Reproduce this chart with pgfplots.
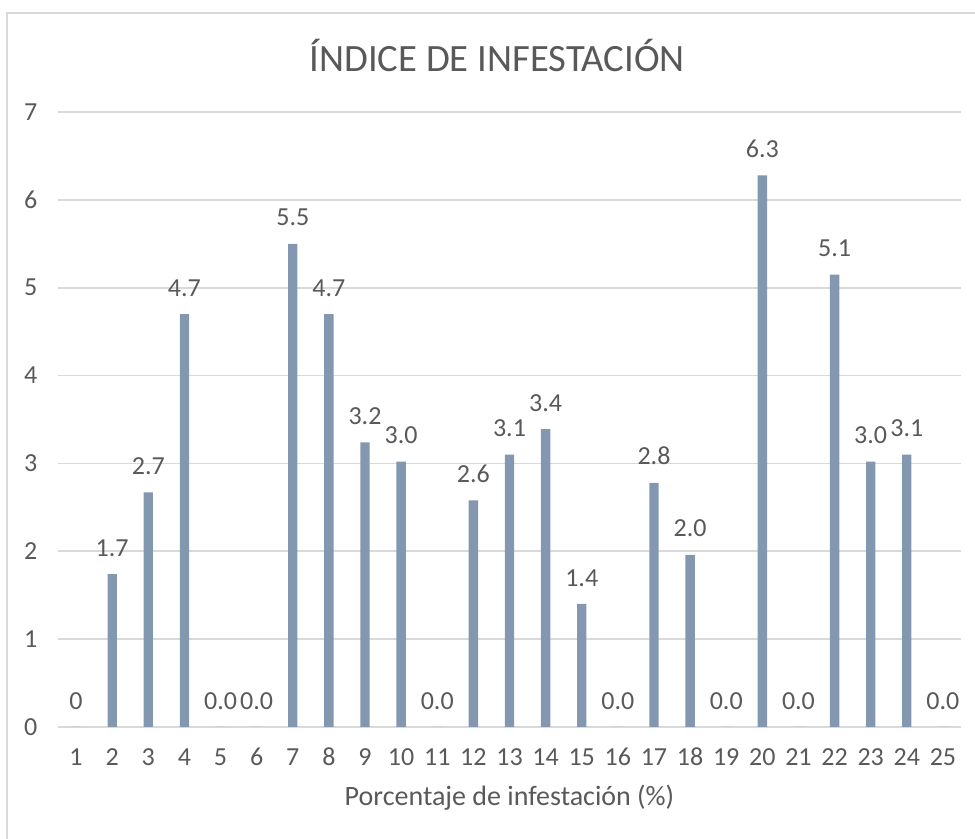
\documentclass[border=0pt]{standalone}
\usepackage{pgfplots}
\pgfplotsset{compat=1.18}
\usepackage{pgfplotstable}
\usepackage{fontspec}
\setmainfont{Carlito}
\definecolor{txt}{HTML}{595959}
\definecolor{barc}{HTML}{8497B0}
\definecolor{gridc}{HTML}{D9D9D9}
\pgfplotstableread{
x y label
1 0 0
2 1.74 1.7
3 2.67 2.7
4 4.70 4.7
5 0 0.0
6 0 0.0
7 5.50 5.5
8 4.70 4.7
9 3.24 3.2
10 3.02 3.0
11 0 0.0
12 2.58 2.6
13 3.10 3.1
14 3.39 3.4
15 1.40 1.4
16 0 0.0
17 2.78 2.8
18 1.96 2.0
19 0 0.0
20 6.28 6.3
21 0 0.0
22 5.15 5.1
23 3.02 3.0
24 3.10 3.1
25 0 0.0
}\datatable
\begin{document}
\begin{tikzpicture}
\path[use as bounding box] (0,0) rectangle (731.25pt,629.25pt);
\draw[gridc, line width=1.2pt] (5.25pt,-5pt) -- (5.25pt,619.5pt) -- (740pt,619.5pt);
\node[text=txt, font=\fontsize{29}{29}\selectfont] at (373pt,588pt) {ÍNDICE DE INFESTACIÓN};
\begin{axis}[
  at={(43.5pt,84pt)}, anchor=south west,
  scale only axis, width=677.25pt, height=461.25pt,
  xmin=0.5, xmax=25.5, ymin=0, ymax=7,
  xtick={1,...,25}, ytick={0,...,7},
  ymajorgrids, major grid style={gridc, line width=1.2pt},
  axis line style={draw=none},
  major tick length=0pt,
  /pgf/number format/assume math mode=true,
  ticklabel style={font=\fontsize{19.5}{19.5}\selectfont, text=txt},
  yticklabel style={xshift=-12pt},
  xticklabel style={yshift=-29pt, text height=14pt, text depth=0pt, anchor=base},
  xlabel={Porcentaje de infestación (\%)},
  xlabel style={font=\fontsize{21}{21}\selectfont, text=txt, yshift=-8pt},
  ybar, bar width=7pt,
  nodes near coords={\pgfplotspointmeta},
  point meta=explicit symbolic,
  nodes near coords style={font=\fontsize{19.5}{19.5}\selectfont, text=txt, anchor=south, inner sep=0pt, yshift=13pt},
]
\addplot[fill=barc, draw=none] table[x=x, y=y, meta=label] {\datatable};
\end{axis}
\end{tikzpicture}
\end{document}
